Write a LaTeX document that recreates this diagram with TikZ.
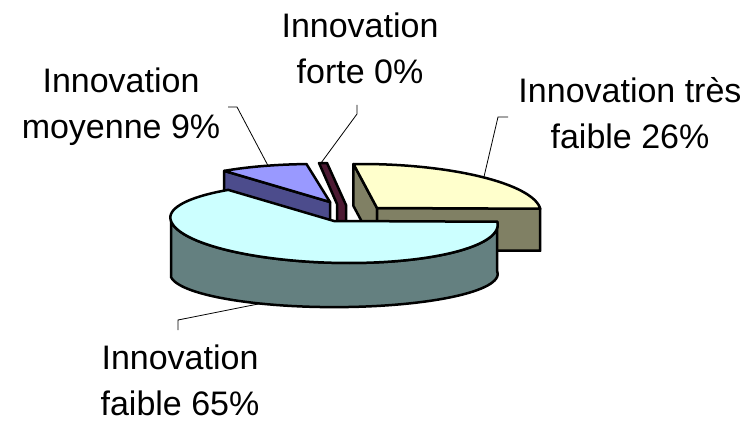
\documentclass[tikz,border=0pt]{standalone}
\usepackage{fontspec}
\setmainfont{Liberation Sans}
\usetikzlibrary{calc}
\definecolor{cyantop}{HTML}{CCFFFF}
\definecolor{cyanside}{HTML}{648080}
\definecolor{yellowtop}{HTML}{FFFFCC}
\definecolor{yellowside}{HTML}{808064}
\definecolor{bluetop}{HTML}{9999FF}
\definecolor{blueside}{HTML}{4C4C8C}
\definecolor{redside}{HTML}{4D1A33}
\begin{document}
\begin{tikzpicture}[x=1pt, y=-1pt,
    slice/.style={draw=black, line width=2.5pt, line join=round},
    leader/.style={draw=black, line width=0.8pt},
    lbl/.style={font=\fontsize{34}{46}\selectfont, align=center, anchor=north, inner sep=0pt},
    declare function={px(\a,\t)=\a+163*cos(\t)-15*sin(\t);
                      py(\b,\t,\r)=\b-\r*max(sin(\t),0)-42*min(sin(\t),0);
                      by(\b,\t)=\b+53-33*sin(\t)-3*cos(\t);}]
    \useasboundingbox (0,0) rectangle (751,422);

    \def\depth{42}

    \coordinate (C) at (334,221);
    \coordinate (Y) at (377,208);
    \coordinate (M) at (330,202);

    % tres faible 26%
    \coordinate (Yb) at ({px(377,93)},{py(208,93,44)});
    \coordinate (Yf) at ({px(377,-1)},{py(208,-1,44)});
    \filldraw[slice, fill=yellowside] (Yb) -- (Y) -- ++(0,\depth) -- ($(Yb)+(0,\depth)$) -- cycle;
    \filldraw[slice, fill=yellowside] (Y) -- (Yf) -- ++(0,\depth) -- ($(Y)+(0,\depth)$) -- cycle;
    \filldraw[slice, fill=yellowtop] (Y) -- plot[domain=93:-1, samples=40, variable=\t] ({px(377,\t)},{py(208,\t,44)}) -- cycle;

    % moyenne 9%
    \coordinate (Ml) at ({px(330,125)},{py(202,125,38)});
    \filldraw[slice, fill=blueside] (M) -- (Ml) -- ++(0,\depth) -- ($(M)+(0,\depth)$) -- cycle;
    \filldraw[slice, fill=bluetop] (M) -- plot[domain=125:93, samples=20, variable=\t] ({px(330,\t)},{py(202,\t,38)}) -- cycle;

    % forte 0%
    \coordinate (R) at (337,204);
    \filldraw[slice, fill=redside] (319,163) -- (327,163) -- (346,205) -- (346,223) -- (337,223) -- (R) -- cycle;

    % faible 65%
    \filldraw[slice, fill=cyanside] plot[domain=180:359, samples=60, variable=\t] ({px(334,\t)},{py(221,\t,38)})
      -- plot[domain=359:180, samples=60, variable=\t] ({px(334,\t)},{by(221,\t)}) -- cycle;
    \filldraw[slice, fill=cyantop] (C) -- plot[domain=-1:-235, samples=80, variable=\t] ({px(334,\t)},{py(221,\t,38)}) -- cycle;

    % labels
    \node[lbl] (lbl-forte) at (360,13) {Innovation\\forte 0\%};
    \node[lbl] (lbl-moy) at (121,68) {Innovation\\moyenne 9\%};
    \node[lbl] (lbl-tres) at (630,77) {Innovation très\\faible 26\%};
    \node[lbl] (lbl-faible) at (180,345) {Innovation\\faible 65\%};

    \coordinate (moyS) at (228,107);
    \coordinate (moyE) at ({px(330,107)},{py(202,107,38)});
    \coordinate (forteS) at (357,105);
    \coordinate (forteE) at (321,163);
    \coordinate (tresS) at (508,117);
    \coordinate (tresE) at ({px(377,44)},{py(208,44,44)});
    \coordinate (faibleS) at (178,330);
    \coordinate (faibleE) at ({px(334,238)},{by(221,238)});

    \draw[leader] (moyS) -- ++(9,0) -- (moyE);
    \draw[leader] (forteS) -- ++(0,9) -- (forteE);
    \draw[leader] (tresS) -- ++(-10,0) -- (tresE);
    \draw[leader] (faibleS) -- ++(0,-10) -- (faibleE);
\end{tikzpicture}
\end{document}
